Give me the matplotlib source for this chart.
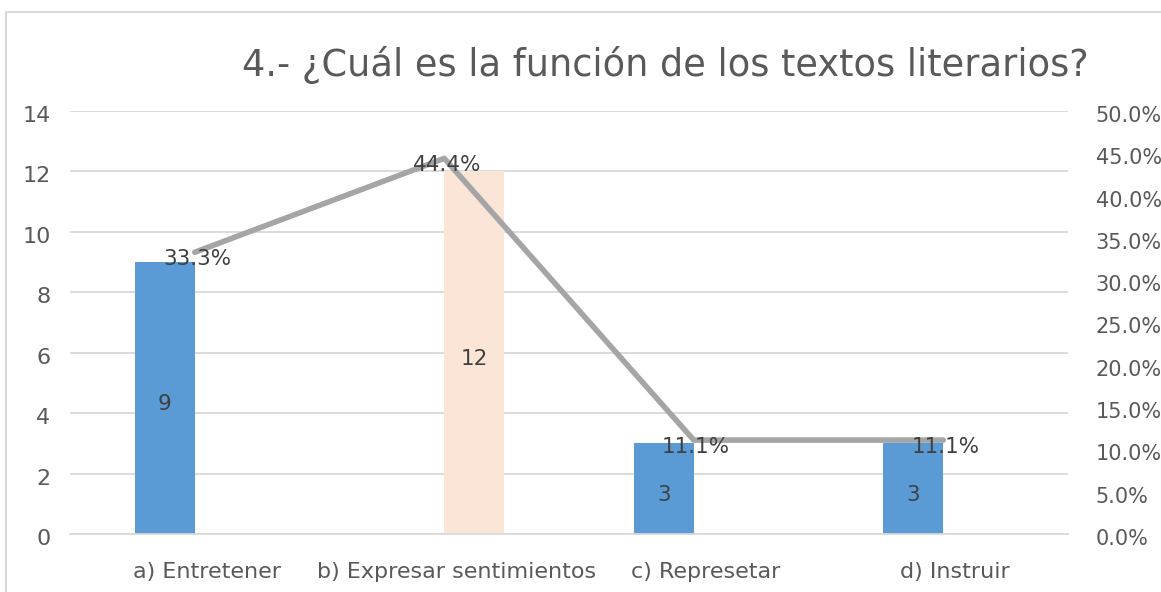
import matplotlib.pyplot as plt
import matplotlib.transforms as mtransforms
from matplotlib.patches import Rectangle
from matplotlib.ticker import FuncFormatter

# data
categories = ["a) Entretener", "b) Expresar sentimientos", "c) Represetar", "d) Instruir"]
serie_azul = [9, 0, 3, 3]
serie_rosa = [0, 12, 0, 0]
porcentajes = [33.3, 44.4, 11.1, 11.1]
etiquetas_barras = ["9", "12", "3", "3"]
etiquetas_pct = ["33.3%", "44.4%", "11.1%", "11.1%"]

texto = "#595959"
fig = plt.figure(figsize=(11.61, 5.92), dpi=100)

# chart frame
fig.patches.append(Rectangle((6 / 1161, -0.1), 1.1, (592 - 12) / 592 + 0.1,
                             transform=fig.transFigure, fill=False,
                             edgecolor="#d9d9d9", linewidth=1.5))

ax = fig.add_axes([70 / 1161, 1 - 534 / 592, (1068 - 70) / 1161, (534 - 111) / 592])
x = list(range(len(categories)))
w = 0.24

ax.bar([i - w / 2 for i in x], serie_azul, width=w, color="#5B9BD5", zorder=2)
ax.bar([i + w / 2 for i in x], serie_rosa, width=w, color="#FBE5D6", zorder=2)

for i in x:
    if serie_azul[i]:
        ax.text(i - w / 2, serie_azul[i] / 2 - 0.2, etiquetas_barras[i], ha="center", va="center",
                fontsize=15.5, color="#404040", zorder=5)
    if serie_rosa[i]:
        ax.text(i + w / 2, serie_rosa[i] / 2 - 0.2, etiquetas_barras[i], ha="center", va="center",
                fontsize=15.5, color="#404040", zorder=5)

ax.set_xlim(-0.5, 3.5)
ax.set_ylim(0, 14)
ax.set_yticks(range(0, 15, 2))
ax.yaxis.grid(True, color="#d9d9d9", linewidth=1.3, zorder=0)
ax.set_axisbelow(True)
for s in ["top", "right", "left"]:
    ax.spines[s].set_visible(False)
ax.spines["bottom"].set_color("#d9d9d9")
ax.spines["bottom"].set_linewidth(1.3)
ax.set_xticks(x)
ax.set_xticklabels(categories)
ax.tick_params(axis="y", length=0, labelsize=16, colors=texto, pad=14)
ax.tick_params(axis="x", length=0, labelsize=16, colors=texto, pad=20)
shift = mtransforms.ScaledTranslation(12 / 100, 0, fig.dpi_scale_trans)
down = mtransforms.ScaledTranslation(0, -3 / 100, fig.dpi_scale_trans)
for lbl in ax.get_xticklabels():
    lbl.set_transform(lbl.get_transform() + shift)
for lbl in ax.get_yticklabels():
    lbl.set_transform(lbl.get_transform() + down)

ax2 = ax.twinx()
ax2.plot(x, porcentajes, color="#A5A5A5", linewidth=4, zorder=4, solid_capstyle="round")
ax2.set_ylim(0, 50)
ax2.set_yticks(range(0, 51, 5))
ax2.yaxis.set_major_formatter(FuncFormatter(lambda v, p: f"{v:.1f}%"))
ax2.tick_params(axis="y", length=0, labelsize=15, colors=texto, pad=20)
for lbl in ax2.get_yticklabels():
    lbl.set_transform(lbl.get_transform() + down)
for s in ax2.spines.values():
    s.set_visible(False)

for i in x:
    ax2.text(i + 0.01, porcentajes[i] - 0.8, etiquetas_pct[i], ha="center", va="center",
             fontsize=15.5, color="#404040", zorder=6)

fig.text(665 / 1161, 1 - 65 / 592, "4.- ¿Cuál es la función de los textos literarios?",
         ha="center", va="center", fontsize=26.5, color=texto)

fig.savefig("out.png", dpi=100)
